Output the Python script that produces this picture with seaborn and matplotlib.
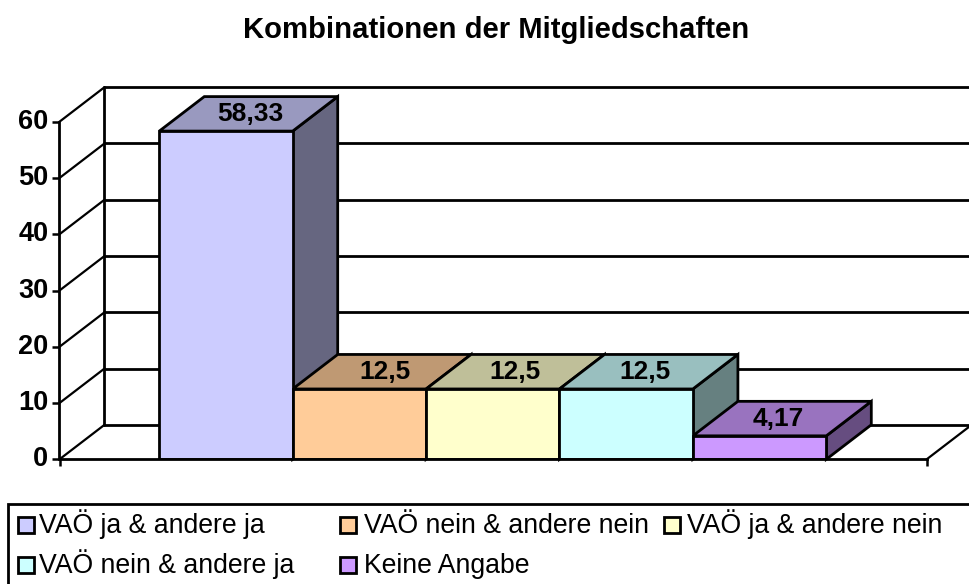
import matplotlib
matplotlib.use("Agg")
import matplotlib.pyplot as plt
import seaborn as sns
import pandas as pd
from matplotlib.patches import Polygon, Rectangle

categories = ["VAÖ ja & andere ja", "VAÖ nein & andere nein", "VAÖ ja & andere nein",
              "VAÖ nein & andere ja", "Keine Angabe"]
values = [58.33, 12.5, 12.5, 12.5, 4.17]
value_labels = ["58,33", "12,5", "12,5", "12,5", "4,17"]
colors = ["#CCCCFF", "#FFCC99", "#FFFFCC", "#CCFFFF", "#CC99FF"]
yticks = [0, 10, 20, 30, 40, 50, 60]
title = "Kombinationen der Mitgliedschaften"

sns.set_style("white")
plt.rcParams['font.family'] = ['Liberation Sans', 'DejaVu Sans']

W, H = 970, 584
LW = 2.0
fig = plt.figure(figsize=(W / 100, H / 100), dpi=100)
ax = fig.add_axes([59.5 / W, 1 - 459.3 / H, (926.7 - 59.5) / W, (459.3 - 121.7) / H])

df = pd.DataFrame({"cat": categories, "val": values})
sns.barplot(data=df, x="cat", y="val", hue="cat", palette=colors, width=1, dodge=False,
            saturation=1, edgecolor="black", linewidth=LW, zorder=5, legend=False, ax=ax)

xl = (59.5 - 226) / 133.4
xr = (926.7 - 226) / 133.4
ax.set_xlim(xl, xr)
ax.set_ylim(0, 60)

# depth of the fake 3d, in data units
dx = 45 / 133.4
dy = 34.5 / (337.6 / 60)


def shade(c, f):
    r, g, b = matplotlib.colors.to_rgb(c)
    return (r * f, g * f, b * f)


def px(x, y):
    return x / W, 1 - y / H


# back wall + side wall grid
for t in yticks:
    ax.plot([xl, xl + dx], [t, t + dy], color="black", lw=LW * 0.8, clip_on=False, zorder=1,
            solid_capstyle="round")
    ax.plot([xl + dx, xr + dx], [t + dy, t + dy], color="black", lw=LW, clip_on=False, zorder=1)
ax.plot([xl + dx, xl + dx], [dy, 60 + dy], color="black", lw=LW, clip_on=False, zorder=1)
ax.plot([xr, xr + dx], [0, dy], color="black", lw=LW * 0.8, clip_on=False, zorder=1)

# small nudges so the labels sit where they do in the original
label_nudge = [1.5, 3, -0.5, -4, -4]

# side and top faces, left to right so the next bar covers the previous side
for i, v in enumerate(values):
    x0, x1 = i - 0.5, i + 0.5
    side = Polygon([(x1, 0), (x1 + dx, dy), (x1 + dx, v + dy), (x1, v)], closed=True,
                   facecolor=shade(colors[i], 0.5), edgecolor="black", lw=LW,
                   clip_on=False, zorder=2 + i * 0.1)
    top = Polygon([(x0, v), (x0 + dx, v + dy), (x1 + dx, v + dy), (x1, v)], closed=True,
                  facecolor=shade(colors[i], 0.75), edgecolor="black", lw=LW,
                  clip_on=False, zorder=2.05 + i * 0.1)
    ax.add_patch(side)
    ax.add_patch(top)
    ax.text(i + dx / 2 + label_nudge[i] / 133.4, v + dy / 2, value_labels[i], ha="center", va="center",
            fontsize=19, fontweight="bold", color="black", zorder=7)

ax.set_xlabel("")
ax.set_ylabel("")
ax.set_xticks([xl, xr])
ax.set_xticklabels(["", ""])
ax.set_yticks(yticks)
ax.set_yticklabels([str(t) for t in yticks], fontsize=19.5, fontweight="bold", color="black", va="center")
ax.tick_params(axis="both", which="both", left=True, bottom=True, length=5, width=LW * 0.9, color="black", pad=3)
ax.patch.set_alpha(0)
sns.despine(ax=ax)
for s in ["left", "bottom"]:
    ax.spines[s].set_linewidth(LW)
    ax.spines[s].set_color("black")
    ax.spines[s].set_zorder(6)

fig.text(*px(496, 30.5), title, ha="center", va="center", fontsize=21.1, fontweight="bold", color="black")

# legend box runs off the right and bottom edge, so it is laid out by hand
fig.add_artist(Rectangle(px(8, 600), (990 - 8) / W, 96.5 / H, transform=fig.transFigure,
                         facecolor="white", edgecolor="black", lw=LW))
leg_x = [(18, 39), (340, 364), (664, 687), (18, 39), (340, 364)]
leg_y = [533, 533, 533, 573, 573]
for i, lab in enumerate(categories):
    sx, tx = leg_x[i]
    by = leg_y[i]
    fig.add_artist(Rectangle(px(sx, by - 0.5), 16 / W, 16 / H, transform=fig.transFigure,
                             facecolor=colors[i], edgecolor="black", lw=LW))
    fig.text(*px(tx, by), lab, ha="left", va="baseline", fontsize=19.2, color="black")

fig.savefig("out.png", dpi=100)
